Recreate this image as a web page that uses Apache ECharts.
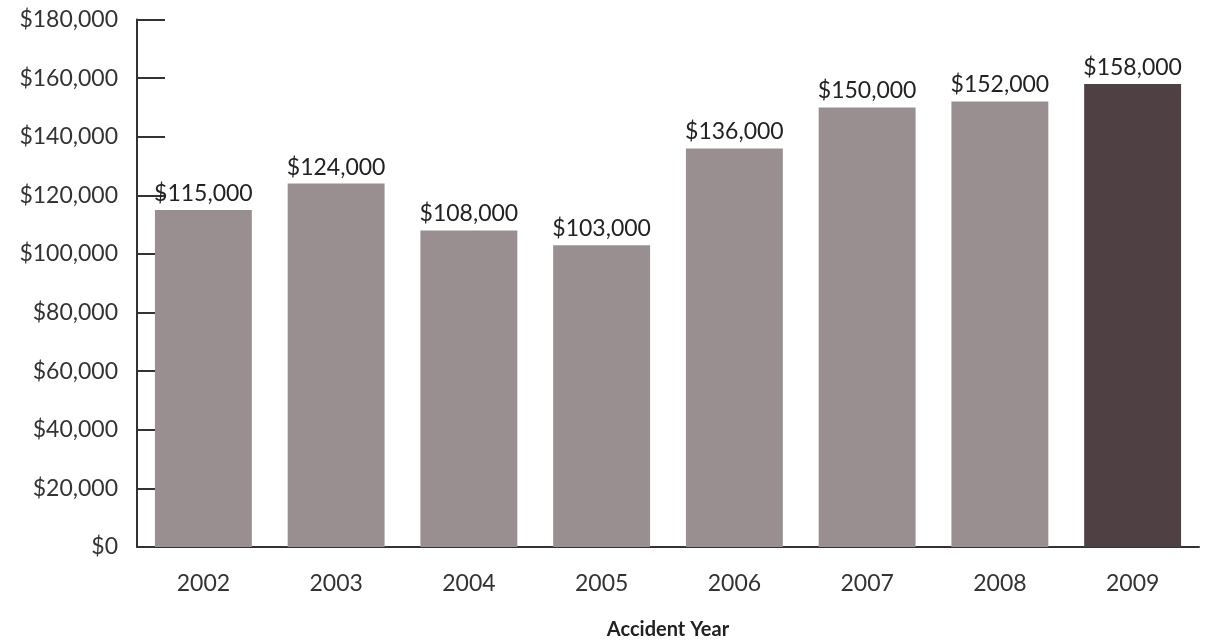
<!DOCTYPE html>
<html>
<head>
<meta charset="utf-8">
<script src="https://cdn.jsdelivr.net/npm/echarts@6/dist/echarts.min.js"></script>
<style>
  html, body { margin: 0; padding: 0; background: #fff; }
  #chart { width: 1205px; height: 642px; }
</style>
</head>
<body>
<div id="chart"></div>
<script>
  var years = ['2002', '2003', '2004', '2005', '2006', '2007', '2008', '2009'];
  var costs = [115000, 124000, 108000, 103000, 136000, 150000, 152000, 158000];
  var yTicks = [0, 20000, 40000, 60000, 80000, 100000, 120000, 140000, 160000, 180000];

  var fontName = 'Lato';
  var money = function (v) {
    return '$' + String(v).replace(/\B(?=(\d{3})+(?!\d))/g, ',');
  };

  var myChart = echarts.init(document.getElementById('chart'));
  var option = {
    animation: false,
    grid: {
      left: 137,
      right: 6,
      top: 19.5,
      bottom: 95,
      outerBoundsMode: 'none'
    },
    xAxis: {
      type: 'category',
      data: years,
      name: 'Accident Year',
      nameLocation: 'middle',
      nameGap: 73,
      nameTextStyle: { fontFamily: fontName, fontWeight: 'bold', fontSize: 20, color: '#222' },
      axisLine: { lineStyle: { color: '#333', width: 2 } },
      axisTick: { inside: true, length: 15, lineStyle: { color: '#333', width: 2 } },
      axisLabel: { margin: 25, fontFamily: fontName, fontSize: 23, color: '#333' }
    },
    yAxis: {
      type: 'value',
      min: yTicks[0],
      max: yTicks[yTicks.length - 1],
      interval: 20000,
      axisLine: { show: true, lineStyle: { color: '#333', width: 2 } },
      axisTick: { show: true, inside: true, length: 28, lineStyle: { color: '#333', width: 2 } },
      splitLine: { show: false },
      axisLabel: { margin: 19, fontFamily: fontName, fontSize: 23, color: '#333', formatter: money }
    },
    series: [{
      type: 'bar',
      barWidth: '73%',
      data: costs.map(function (v, i) {
        return {
          value: v,
          itemStyle: { color: i === costs.length - 1 ? '#4f4043' : '#9a8f90' }
        };
      }),
      label: {
        show: true,
        position: 'top',
        distance: 5,
        fontFamily: fontName,
        fontSize: 23,
        color: '#222',
        formatter: function (p) { return money(p.value); }
      }
    }]
  };
  myChart.setOption(option);
</script>
</body>
</html>
